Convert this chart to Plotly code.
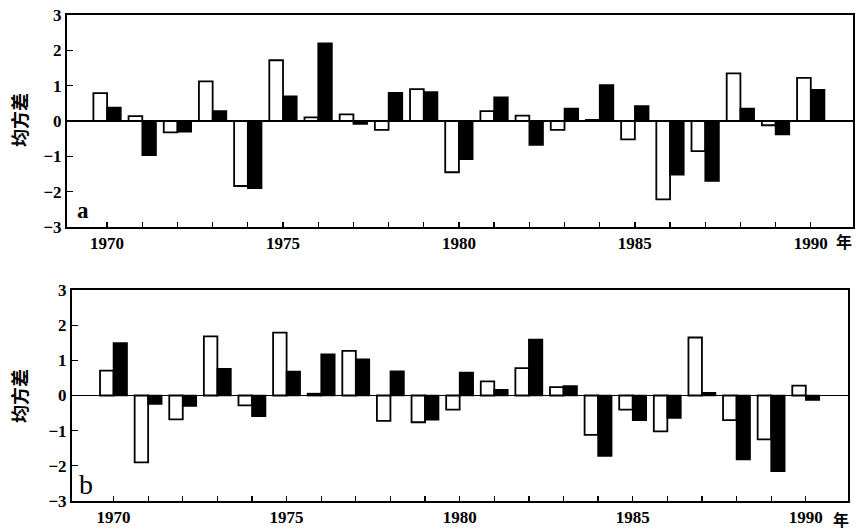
import plotly.graph_objects as go

years = list(range(1970, 1991))
a_white = [0.79, 0.14, -0.32, 1.12, -1.84, 1.72, 0.10, 0.19, -0.25, 0.90, -1.45,
           0.28, 0.15, -0.25, 0.03, -0.52, -2.22, -0.85, 1.35, -0.12, 1.22]
a_black = [0.38, -0.97, -0.30, 0.28, -1.90, 0.70, 2.20, -0.08, 0.80, 0.82, -1.08,
           0.67, -0.68, 0.35, 1.02, 0.42, -1.52, -1.70, 0.35, -0.38, 0.88]
b_white = [0.71, -1.90, -0.68, 1.68, -0.28, 1.79, 0.05, 1.27, -0.72, -0.76, -0.40,
           0.40, 0.78, 0.24, -1.12, -0.40, -1.02, 1.65, -0.70, -1.25, 0.28]
b_black = [1.49, -0.24, -0.30, 0.76, -0.59, 0.68, 1.17, 1.03, 0.69, -0.69, 0.65,
           0.16, 1.59, 0.27, -1.72, -0.70, -0.64, 0.08, -1.82, -2.15, -0.13]

x_tick_vals = years
x_tick_text = [str(y) if y % 5 == 0 else "" for y in years]
y_tick_vals = [-3, -2, -1, 0, 1, 2, 3]
y_tick_text = ["−3", "−2", "−1", "0", "1", "2", "3"]
y_title = "均方差"
panel_labels = ["a", "b"]
unit_label = "年"

W, H = 863, 531
BW = 0.39


def px(x):
    return x / W


def py(y):
    return 1 - y / H


fig = go.Figure()
for i, (wv, bv) in enumerate([(a_white, a_black), (b_white, b_black)]):
    xa = "x" if i == 0 else "x2"
    ya = "y" if i == 0 else "y2"
    fig.add_trace(go.Bar(x=years, y=wv, width=BW, offset=-BW, xaxis=xa, yaxis=ya,
                         marker=dict(color="white", line=dict(color="black", width=1.8)),
                         showlegend=False))
    fig.add_trace(go.Bar(x=years, y=bv, width=BW, offset=0, xaxis=xa, yaxis=ya,
                         marker=dict(color="black", line=dict(color="black", width=1.6)),
                         showlegend=False))

xtickfont = dict(family="Liberation Serif", size=17, color="black", weight="bold")
ytickfont = dict(family="Liberation Serif", size=17, color="black", weight="bold")


def xaxis(dom, rng, anchor):
    return dict(domain=dom, range=rng, anchor=anchor, tickvals=x_tick_vals,
                ticktext=x_tick_text, ticks="inside", ticklen=5, tickwidth=1.3,
                tickcolor="black", showline=True, linecolor="black", linewidth=2,
                mirror=True, showgrid=False, zeroline=False, tickfont=xtickfont,
                automargin=False, ticklabeloverflow="allow", fixedrange=True)


def yaxis(dom, anchor):
    return dict(domain=dom, range=[-3, 3], anchor=anchor, tickvals=y_tick_vals,
                ticktext=y_tick_text, ticks="inside", ticklen=6, tickwidth=1.3,
                tickcolor="black", showline=True, linecolor="black", linewidth=2,
                mirror=True, showgrid=False, zeroline=True, zerolinecolor="black",
                zerolinewidth=1.8, tickfont=ytickfont, automargin=False,
                ticklabeloverflow="allow", fixedrange=True)


fig.update_layout(
    width=W, height=H,
    margin=dict(l=0, r=0, t=0, b=0),
    paper_bgcolor="white", plot_bgcolor="white",
    xaxis=xaxis([px(67), px(853)], [1968.86, 1991.2], "y"),
    yaxis=yaxis([py(227), py(15)], "x"),
    xaxis2=xaxis([px(72), px(848)], [1968.8, 1991.22], "y2"),
    yaxis2=yaxis([py(501), py(290)], "x2"),
    bargap=0, barmode="overlay", hovermode=False,
)


def note(x, y, text, font, angle=0):
    fig.add_annotation(x=px(x), y=py(y), xref="paper", yref="paper", text=text,
                       textangle=angle, showarrow=False, xanchor="center",
                       yanchor="middle", font=font)


cjk = dict(family="Noto Sans CJK SC", size=18, color="black", weight="bold")
note(19, 120, y_title, cjk, -90)
note(19, 396, y_title, cjk, -90)
note(83, 211, panel_labels[0], dict(family="Liberation Serif", size=23, color="black",
                                     weight="bold"))
note(86, 484, panel_labels[1], dict(family="Liberation Serif", size=28, color="black"))
ufont = dict(family="Noto Sans CJK SC", size=16, color="black", weight="bold")
note(844, 241, unit_label, ufont)
note(841, 519, unit_label, ufont)

fig.write_html("out.html", config={"displayModeBar": False, "staticPlot": True},
               post_script="document.body.style.margin='0';document.body.style.padding='0';")
